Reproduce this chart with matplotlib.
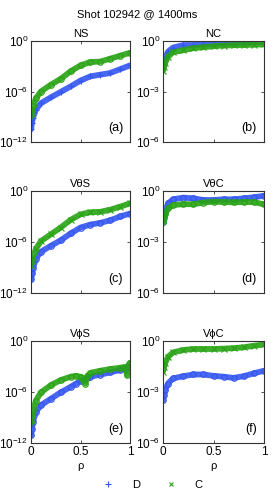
import numpy as np
import matplotlib
matplotlib.use('Agg')
import matplotlib.pyplot as plt
from matplotlib.lines import Line2D

plt.rcParams['font.family'] = ['Liberation Sans', 'DejaVu Sans']
plt.rcParams['font.size'] = 7.5
plt.rcParams['mathtext.fontset'] = 'custom'
plt.rcParams['mathtext.rm'] = 'Liberation Sans'
plt.rcParams['mathtext.it'] = 'Liberation Sans'
plt.rcParams['mathtext.default'] = 'regular'

# radial grid (rho) used by most panels
rho = [0, 0.01, 0.02, 0.05, 0.1, 0.2, 0.3, 0.4, 0.5, 0.6, 0.7, 0.8, 0.9, 1.0]
# finer grid for panel (e)
rho_e = [0, 0.01, 0.02, 0.05, 0.1, 0.2, 0.3, 0.4, 0.45, 0.5, 0.53, 0.55, 0.57,
         0.6, 0.7, 0.8, 0.9, 0.95, 0.97, 0.99, 1.0]

# log10 of |coefficient|
ns_D = [-10.5, -9.7, -9.1, -8.15, -7.4, -6.7, -6.05, -5.4, -4.7, -4.2, -4.0, -3.8, -3.35, -2.9]
ns_C = [-8.8, -8.2, -7.75, -6.8, -6.0, -5.2, -4.5, -3.6, -2.9, -2.5, -2.45, -2.1, -1.75, -1.4]
nc_D = [-1.52, -1.25, -1.02, -0.63, -0.39, -0.24, -0.24, -0.2, -0.16, -0.14, -0.12, -0.1, -0.07, -0.04]
nc_C = [-1.77, -1.55, -1.32, -0.93, -0.67, -0.55, -0.43, -0.37, -0.31, -0.27, -0.25, -0.24, -0.22, -0.2]
vts_D = [-10.4, -9.7, -9.1, -7.95, -7.15, -6.45, -5.8, -5.0, -4.3, -3.95, -3.75, -3.45, -3.0, -2.65]
vts_C = [-8.8, -8.2, -7.75, -6.8, -5.9, -5.1, -4.3, -3.4, -2.75, -2.5, -2.45, -2.2, -1.85, -1.45]
vtc_D = [-1.8, -1.5, -1.22, -0.73, -0.49, -0.39, -0.43, -0.53, -0.53, -0.49, -0.49, -0.43, -0.37, -0.28]
vtc_C = [-1.8, -1.6, -1.38, -1.02, -0.83, -0.77, -0.78, -0.68, -0.63, -0.65, -0.67, -0.65, -0.65, -0.79]
vps_D = [-11.1, -10.3, -9.5, -8.35, -7.55, -6.8, -6.05, -5.4, -5.05, -4.7, -4.55, -4.5, -4.4,
         -4.2, -3.95, -3.7, -3.4, -3.25, -3.15, -3.05, -3.0]
vps_C = [-9.5, -8.8, -8.15, -7.0, -6.05, -5.2, -4.6, -4.2, -4.1, -4.2, -4.6, -5.0, -4.1,
         -3.75, -3.5, -3.3, -3.15, -3.05, -4.0, -2.75, -2.55]
vpc_D = [-3.48, -3.2, -2.9, -2.5, -2.2, -2.07, -1.97, -1.97, -2.05, -2.1, -2.17, -2.07, -1.9, -1.75]
vpc_C = [-1.8, -1.55, -1.32, -0.93, -0.67, -0.53, -0.47, -0.47, -0.47, -0.45, -0.42, -0.37, -0.28, -0.2]

blue = '#3355f0'
green = '#28a314'
frame = '#333333'

panels = [
    # title, label, x, D, C, D marker, C marker, decades
    ('NS', '(a)', rho, ns_D, ns_C, '+', 'o', 12),
    ('NC', '(b)', rho, nc_D, nc_C, '+', 'x', 6),
    ('V\u03b8S', '(c)', rho, vts_D, vts_C, 'o', 'x', 12),
    ('V\u03b8C', '(d)', rho, vtc_D, vtc_C, 'o', 'o', 6),
    ('V\u03d5S', '(e)', rho_e, vps_D, vps_C, 'o', 'o', 12),
    ('V\u03d5C', '(f)', rho, vpc_D, vpc_C, 'o', 'x', 6),
]

W, H = 275, 496
fig = plt.figure(figsize=(W / 100, H / 100), dpi=100)
cols = [(31, 99), (163, 101)]
rows = [(41, 142), (191, 293), (341, 443)]

for i, (title, lab, x, d, c, md, mc, dec) in enumerate(panels):
    r, k = divmod(i, 2)
    x0, w = cols[k]
    top, bot = rows[r]
    ax = fig.add_axes([x0 / W, 1 - bot / H, w / W, (bot - top) / H])
    for vals, col, m in [(d, blue, md), (c, green, mc)]:
        y = 10.0 ** np.array(vals)
        ax.plot(x, y, '-', color=col, lw=4.2, alpha=0.9, solid_capstyle='round',
                solid_joinstyle='round')
        ax.plot(x, y, m, color=col, ms=4, mew=0.8, mfc='none')
    ax.set_yscale('log')
    ax.set_ylim(10.0 ** -dec, 1)
    ax.set_xlim(0, 1)
    ax.set_yticks([10.0 ** -dec, 10.0 ** (-dec / 2), 1])
    ax.set_yticklabels([r'$10^{-%d}$' % dec, r'$10^{-%d}$' % (dec // 2), r'$10^{0}$'])
    ax.minorticks_off()
    ax.set_xticks([0, 0.5, 1])
    ax.tick_params(direction='in', top=True, right=True, length=2.5, width=0.6,
                   colors=frame, labelcolor='black', labelsize=8.5, pad=2)
    if r == 2:
        ax.set_xticklabels(['0', '0.5', '1'])
        ax.set_xlabel('\u03c1', fontsize=8, labelpad=2)
    else:
        ax.set_xticklabels([])
    for s in ax.spines.values():
        s.set_color(frame)
        s.set_linewidth(0.8)
    ax.set_title(title, fontsize=8, pad=3)
    ax.text(0.93, 0.08, lab, transform=ax.transAxes, ha='right', va='bottom', fontsize=9)

fig.text(0.5, 1 - 14 / H, 'Shot 102942 @ 1400ms', ha='center', va='center', fontsize=8)

handles = [Line2D([], [], ls='none', marker='+', color=blue, ms=4, mew=0.8),
           Line2D([], [], ls='none', marker='x', color=green, ms=3.5, mew=0.8)]
fig.legend(handles, ['D', 'C'], loc='center', bbox_to_anchor=(0.555, 1 - 485 / H),
           ncol=2, frameon=False, handlelength=1, handletextpad=1.6, columnspacing=2.3,
           fontsize=8)

fig.savefig('out.png', dpi=100)
